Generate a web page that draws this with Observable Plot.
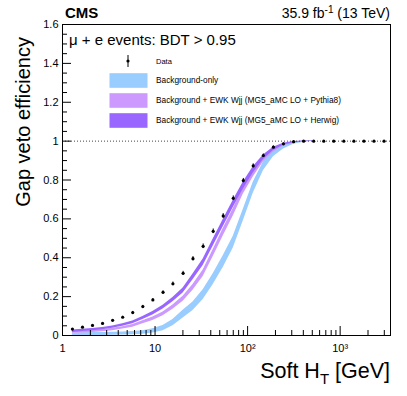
<!DOCTYPE html>
<html>
<head>
<meta charset="utf-8">
<script src="https://cdn.jsdelivr.net/npm/d3@7"></script>
<script src="https://cdn.jsdelivr.net/npm/@observablehq/plot@0.6"></script>
<style>
  html, body { margin: 0; padding: 0; background: #fff; }
  svg { font-family: "Liberation Sans", Arial, sans-serif; }
</style>
</head>
<body>
<script>
// ---- data ----
const softHT = [1.28, 1.645, 2.11, 2.71, 3.48, 4.47, 5.74, 7.38, 9.47, 12.2, 15.6, 20.1, 25.7, 33.1, 42.5, 54.5,
                70.0, 89.9, 115, 148, 190, 244, 314, 403, 518, 665, 853, 1096, 1407, 1807, 2320, 2980];
const dataEff = [0.033, 0.043, 0.052, 0.062, 0.078, 0.094, 0.118, 0.149, 0.183, 0.222, 0.266, 0.320, 0.395, 0.459, 0.536, 0.615,
                 0.706, 0.797, 0.873, 0.926, 0.969, 0.986, 0.997, 1.0, 1.0, 1.0, 1.0, 1.0, 1.0, 1.0, 1.0, 1.0];
const dataErr = [0.003, 0.003, 0.004, 0.004, 0.004, 0.005, 0.006, 0.006, 0.007, 0.008, 0.009, 0.010, 0.011, 0.012, 0.012, 0.012,
                 0.012, 0.011, 0.010, 0.008, 0.006, 0.004, 0.003, 0.002, 0.002, 0.002, 0.002, 0.002, 0.002, 0.002, 0.002, 0.002];

const bkgOnly    = [0.005, 0.006, 0.007, 0.008, 0.009, 0.010, 0.012, 0.016, 0.024, 0.038, 0.066, 0.110, 0.150, 0.210, 0.290, 0.380,
                    0.480, 0.620, 0.760, 0.870, 0.935, 0.970, 0.990, 0.997, 1.0];
const bkgOnlyErr = [0.008, 0.008, 0.008, 0.008, 0.008, 0.008, 0.008, 0.009, 0.011, 0.013, 0.016, 0.020, 0.022, 0.025, 0.028, 0.030,
                    0.030, 0.030, 0.028, 0.022, 0.016, 0.010, 0.006, 0.003, 0.001];
const pythia     = [0.017, 0.019, 0.022, 0.025, 0.031, 0.039, 0.050, 0.068, 0.086, 0.111, 0.146, 0.189, 0.248, 0.320, 0.425, 0.531,
                    0.634, 0.746, 0.832, 0.904, 0.952, 0.980, 0.993, 0.999, 1.0];
const pythiaErr  = [0.006, 0.006, 0.006, 0.006, 0.006, 0.006, 0.007, 0.008, 0.009, 0.010, 0.011, 0.013, 0.015, 0.017, 0.018, 0.019,
                    0.019, 0.018, 0.016, 0.012, 0.008, 0.005, 0.003, 0.002, 0.001];
const herwig     = [0.022, 0.026, 0.030, 0.035, 0.043, 0.054, 0.068, 0.090, 0.115, 0.146, 0.185, 0.232, 0.302, 0.377, 0.478, 0.578,
                    0.677, 0.772, 0.852, 0.917, 0.960, 0.984, 0.995, 0.999, 1.0];
const herwigErr  = [0.006, 0.006, 0.006, 0.006, 0.006, 0.006, 0.007, 0.008, 0.009, 0.010, 0.011, 0.013, 0.015, 0.017, 0.018, 0.019,
                    0.019, 0.018, 0.016, 0.012, 0.008, 0.005, 0.003, 0.002, 0.001];

const xTicks = [1, 10, 100, 1000];
const xTickLabels = ["1", "10", "10²", "10³"];
const yTicks = [0, 0.2, 0.4, 0.6, 0.8, 1.0, 1.2, 1.4, 1.6];
const yTickLabels = ["0", "0.2", "0.4", "0.6", "0.8", "1", "1.2", "1.4", "1.6"];
const legendLabels = ["Data", "Background-only",
  "Background + EWK Wjj (MG5_aMC LO + Pythia8)",
  "Background + EWK Wjj (MG5_aMC LO + Herwig)"];
const bandColors = ["#99ccff", "#cc99ff", "#9966ff"];

// ---- derived tables ----
const points = softHT.map((x, i) => ({x, y: dataEff[i], lo: dataEff[i] - dataErr[i], hi: dataEff[i] + dataErr[i]}));
const band = (c, e) => c.map((v, i) => ({x: softHT[i], lo: v - e[i], hi: Math.min(v + e[i], 1.0005)}));
const bands = [band(bkgOnly, bkgOnlyErr), band(pythia, pythiaErr), band(herwig, herwigErr)];

const xMinor = [];
for (const d of [1, 10, 100, 1000]) for (let k = 2; k <= 9; k++) if (d * k < 3500) xMinor.push(d * k);
const yMinor = d3.range(0, 1.6001, 0.05).filter(v => Math.abs(v / 0.2 - Math.round(v / 0.2)) > 1e-6);

const W = 407, H = 396, mL = 62, mR = 17, mT = 24, mB = 61;
const pw = W - mL - mR, ph = H - mT - mB;

const chart = Plot.plot({
  width: W, height: H,
  marginLeft: mL, marginRight: mR, marginTop: mT, marginBottom: mB,
  style: {fontFamily: "Liberation Sans, Arial, sans-serif", background: "#fff", color: "#000"},
  x: {type: "log", domain: [1, 3500]},
  y: {domain: [0, 1.6]},
  marks: [
    ...bands.map((b, k) => Plot.areaY(b, {x: "x", y1: "lo", y2: "hi", fill: bandColors[k], fillOpacity: 1})),
    Plot.ruleY([1], {stroke: "#444", strokeWidth: 1, strokeDasharray: "1,2"}),
    Plot.ruleX(points, {x: "x", y1: "lo", y2: "hi", stroke: "#000", strokeWidth: 1}),
    Plot.dot(points, {x: "x", y: "y", r: 1.6, fill: "#000"}),
    Plot.tickY(yTicks, {y: d => d, insetRight: pw - 9, stroke: "#000"}),
    Plot.tickY(yMinor, {y: d => d, insetRight: pw - 5, stroke: "#000"}),
    Plot.tickX(xTicks, {x: d => d, insetTop: ph - 9, stroke: "#000"}),
    Plot.tickX(xMinor, {x: d => d, insetTop: ph - 5, stroke: "#000"}),
    Plot.axisX({ticks: xTicks, tickSize: 0, tickPadding: 9, fontSize: 11, label: null,
                tickFormat: d => xTickLabels[xTicks.indexOf(d)]}),
    Plot.axisY({ticks: yTicks, tickSize: 0, tickPadding: 4, fontSize: 11, label: null,
                tickFormat: d => yTickLabels[yTicks.findIndex(t => Math.abs(t - d) < 1e-9)]}),
    Plot.frame({stroke: "#000", strokeWidth: 1})
  ]
});
document.body.appendChild(chart);

// ---- annotations ----
const svg = d3.select(chart);
const g = svg.append("g").attr("font-family", "Liberation Sans, Arial, sans-serif")
  .attr("fill", "#000").attr("text-anchor", "start");

g.append("text").attr("x", 65).attr("y", 18).attr("font-size", 15).attr("font-weight", "bold").text("CMS");
const lumi = g.append("text").attr("x", 390).attr("y", 18).attr("font-size", 14).attr("text-anchor", "end");
lumi.append("tspan").text("35.9 fb");
lumi.append("tspan").attr("font-size", 10).attr("dy", -5).text("-1");
lumi.append("tspan").attr("dy", 5).text(" (13 TeV)");

g.append("text").attr("x", 69).attr("y", 45).attr("font-size", 15).text("μ + e events: BDT > 0.95");

g.append("text").attr("transform", "translate(30,37) rotate(-90)").attr("text-anchor", "end")
  .attr("font-size", 20).text("Gap veto efficiency");

const xl = g.append("text").attr("x", 390).attr("y", 378).attr("font-size", 21.5).attr("text-anchor", "end");
xl.append("tspan").text("Soft H");
xl.append("tspan").attr("font-size", 15).attr("dy", 6).text("T");
xl.append("tspan").attr("dy", -6).text(" [GeV]");

// legend
const lg = g.append("g").attr("font-size", 8.3);
lg.append("line").attr("x1", 128).attr("x2", 128).attr("y1", 55).attr("y2", 67).attr("stroke", "#000");
lg.append("circle").attr("cx", 128).attr("cy", 61).attr("r", 1.6).attr("fill", "#000");
lg.append("text").attr("x", 156).attr("y", 61).attr("dy", "0.35em").attr("font-size", 7.5).text(legendLabels[0]);
[80.5, 100.5, 120.5].forEach((cy, k) => {
  lg.append("rect").attr("x", 109.5).attr("y", cy - 7.3).attr("width", 38).attr("height", 14.6).attr("fill", bandColors[k]);
  lg.append("text").attr("x", 156).attr("y", cy).attr("dy", "0.35em").text(legendLabels[k + 1]);
});
</script>
</body>
</html>
